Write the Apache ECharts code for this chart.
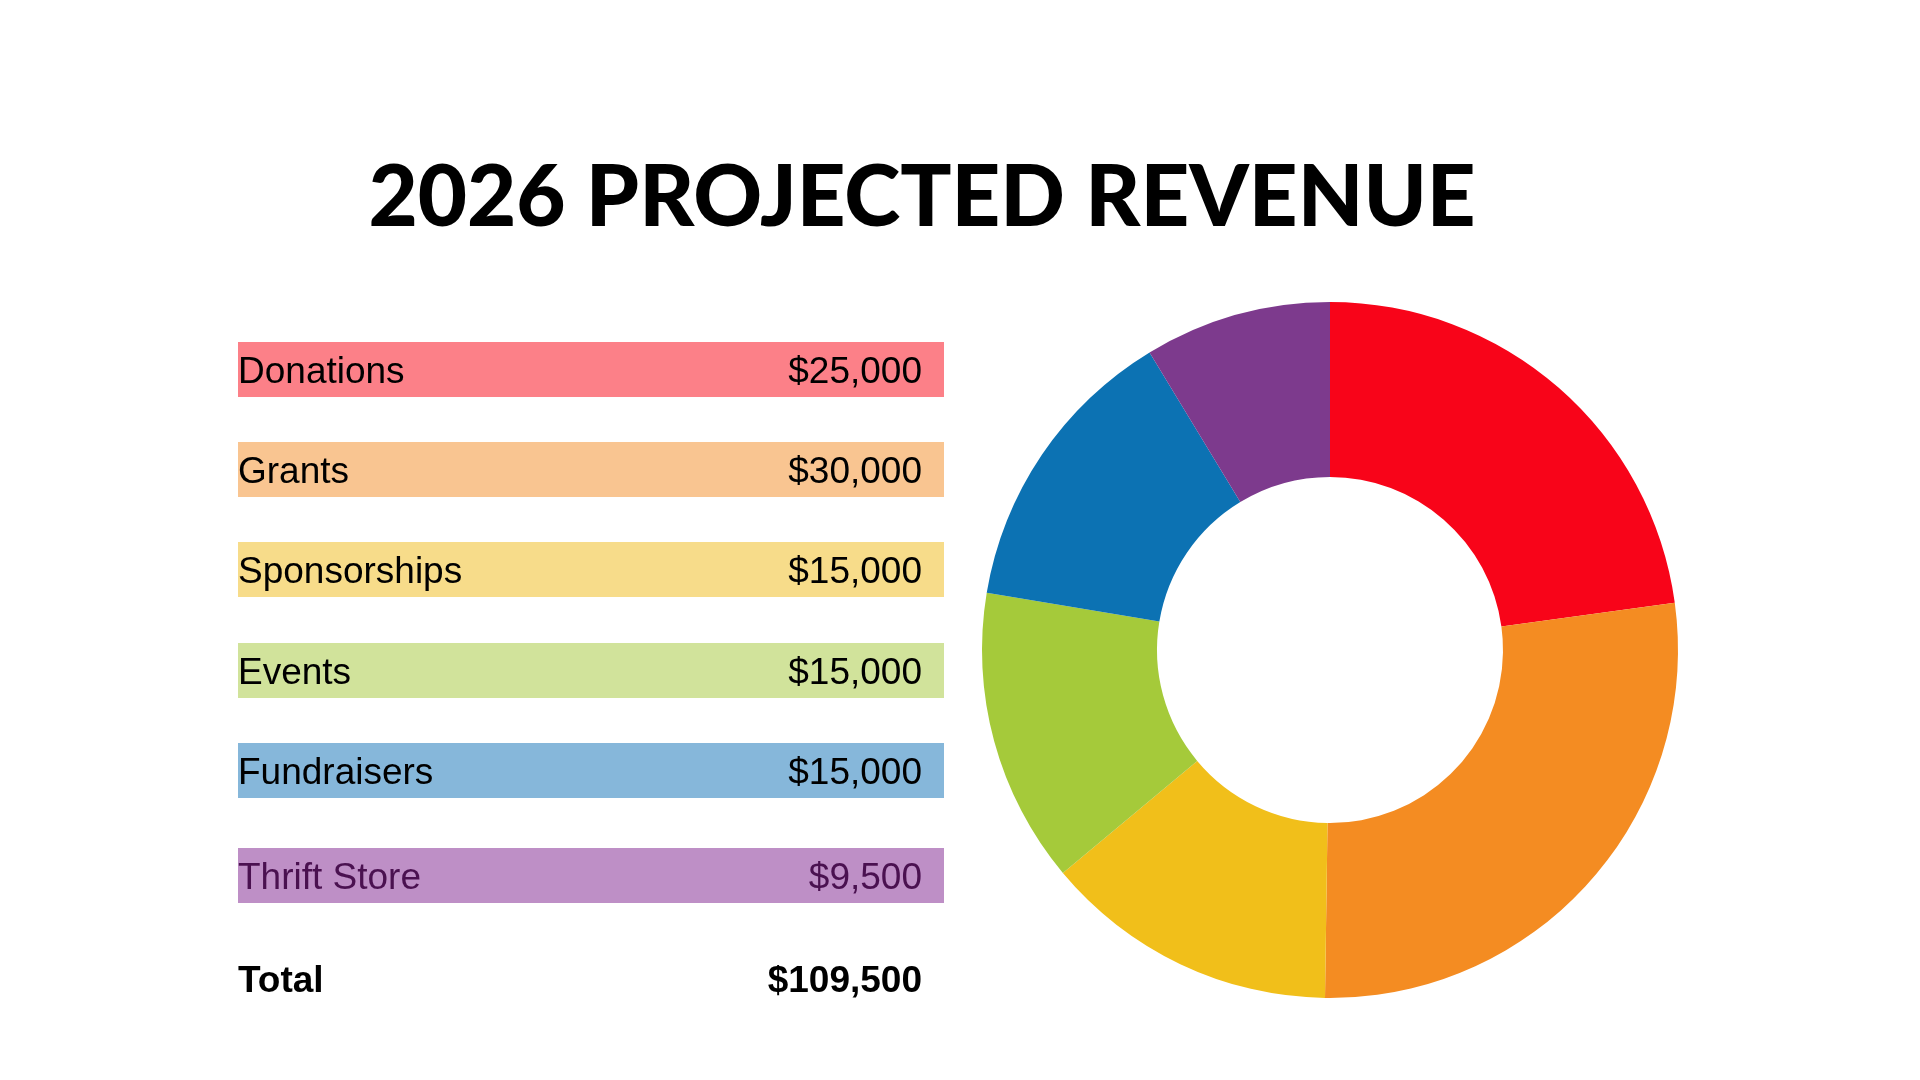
<!DOCTYPE html>
<html>
<head>
<meta charset="utf-8">
<script src="https://cdn.jsdelivr.net/npm/echarts@6/dist/echarts.min.js"></script>
<style>
html,body{margin:0;padding:0;background:#fff;}
#chart{width:1920px;height:1080px;}
</style>
</head>
<body>
<div id="chart"></div>
<script>
var titleText = '2026 PROJECTED REVENUE';
var categories = ['Donations', 'Grants', 'Sponsorships', 'Events', 'Fundraisers', 'Thrift Store'];
var values = [25000, 30000, 15000, 15000, 15000, 9500];
var sliceColors = ['#F80419', '#F48C22', '#F1BF1A', '#A5CA3A', '#0C72B3', '#7D3A8D'];
var rowColors = ['#FC8088', '#F9C591', '#F7DC8A', '#D1E39B', '#86B7DA', '#BE8FC6'];
var rowTextColors = ['#000', '#000', '#000', '#000', '#000', '#4A1150'];
var totalLabel = 'Total';

function fmt(v) { return '$' + v.toLocaleString('en-US'); }
var total = values.reduce(function (a, b) { return a + b; }, 0);

var rowTops = [342, 442, 542, 643, 743, 848];
var rowH = 55, rowX = 238, rowW = 706, valRight = 922;
var rowFont = '37px "Liberation Sans", Arial, sans-serif';

var graphics = [];
graphics.push({
  type: 'text', x: 922, y: 156,
  style: { text: titleText, fill: '#000', font: '900 85px Lato, sans-serif', textAlign: 'center', textVerticalAlign: 'top' }
});
categories.forEach(function (c, i) {
  graphics.push({
    type: 'rect', shape: { x: rowX, y: rowTops[i], width: rowW, height: rowH },
    style: { fill: rowColors[i] }, silent: true
  });
  graphics.push({
    type: 'text', x: rowX, y: rowTops[i] + rowH / 2 + 3,
    style: { text: c, fill: rowTextColors[i], font: rowFont, textAlign: 'left', textVerticalAlign: 'middle' }
  });
  graphics.push({
    type: 'text', x: valRight, y: rowTops[i] + rowH / 2 + 3,
    style: { text: fmt(values[i]), fill: rowTextColors[i], font: rowFont, textAlign: 'right', textVerticalAlign: 'middle' }
  });
});
graphics.push({
  type: 'text', x: rowX, y: 982,
  style: { text: totalLabel, fill: '#000', font: 'bold 37px "Liberation Sans", Arial, sans-serif', textAlign: 'left', textVerticalAlign: 'middle' }
});
graphics.push({
  type: 'text', x: valRight, y: 982,
  style: { text: fmt(total), fill: '#000', font: 'bold 37px "Liberation Sans", Arial, sans-serif', textAlign: 'right', textVerticalAlign: 'middle' }
});

var chart = echarts.init(document.getElementById('chart'), null, { renderer: 'canvas' });
chart.setOption({
  backgroundColor: '#ffffff',
  animation: false,
  graphic: graphics,
  series: [{
    type: 'pie',
    center: [1330, 650],
    radius: [173, 348],
    startAngle: 90,
    clockwise: true,
    label: { show: false },
    labelLine: { show: false },
    emphasis: { disabled: true },
    itemStyle: { borderWidth: 0 },
    data: categories.map(function (c, i) {
      return { name: c, value: values[i], itemStyle: { color: sliceColors[i] } };
    })
  }]
});
</script>
</body>
</html>
